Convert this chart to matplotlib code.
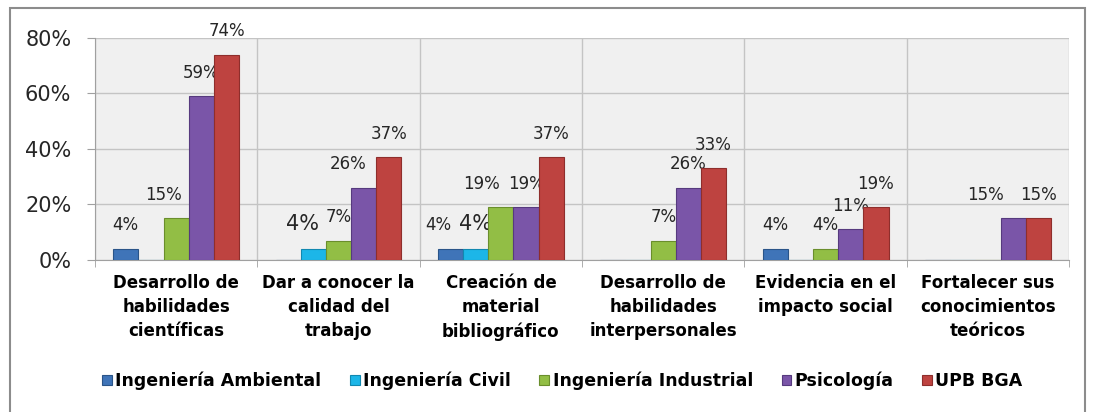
import matplotlib.pyplot as plt
import numpy as np
from matplotlib.patches import Rectangle

categories = [
    "Desarrollo de\nhabilidades\ncientíficas",
    "Dar a conocer la\ncalidad del\ntrabajo",
    "Creación de\nmaterial\nbibliográfico",
    "Desarrollo de\nhabilidades\ninterpersonales",
    "Evidencia en el\nimpacto social",
    "Fortalecer sus\nconocimientos\nteóricos",
]
series = ["Ingeniería Ambiental", "Ingeniería Civil", "Ingeniería Industrial",
          "Psicología", "UPB BGA"]
ambiental = [4, 0, 4, 0, 4, 0]
civil = [0, 4, 4, 0, 0, 0]
industrial = [15, 7, 19, 7, 4, 0]
psicologia = [59, 26, 19, 26, 11, 15]
upb = [74, 37, 37, 33, 19, 15]
yticks = [0, 20, 40, 60, 80]

colors = ["#3F74B8", "#1CB6E8", "#92BE45", "#7A55A8", "#BE4340"]
edges = ["#2A5488", "#1188B0", "#6A8E2C", "#563A7E", "#8E2E2C"]

# label nudges (points) where Excel moved labels sideways to avoid overlap
label_dx = {(0, 2): -9, (1, 1): -8, (1, 3): -11, (2, 0): -9, (2, 2): -14, (5, 3): -20}
big_labels = {(1, 1), (2, 1)}

fig = plt.figure(figsize=(10.94, 4.12), dpi=100)
fig.patches.append(Rectangle((0.009, -0.01), 0.983, 0.99, transform=fig.transFigure,
                             fill=False, edgecolor="#8C8C8C", linewidth=1.5))
ax = fig.add_axes([0.0868, 0.369, 0.8905, 0.539])
ax.set_facecolor("#F0F0F0")

x = np.arange(len(categories))
w = 0.155
data = [ambiental, civil, industrial, psicologia, upb]
for i, (vals, name) in enumerate(zip(data, series)):
    pos = x + (i - 2) * w
    ax.bar(pos, vals, width=w, color=colors[i], edgecolor=edges[i], linewidth=0.8,
           label=name, zorder=3)
    for j, (p, v) in enumerate(zip(pos, vals)):
        if v > 0:
            big = (j, i) in big_labels
            ax.annotate(f"{v}%", (p, v), xytext=(label_dx.get((j, i), 0), 18 if big else 17),
                        textcoords="offset points", ha="center", va="center",
                        fontsize=15 if big else 12, color="#262626")

ax.set_xlim(-0.5, len(categories) - 0.5)
ax.set_ylim(0, 80)
ax.set_yticks(yticks)
ax.set_yticklabels([f"{t}%" for t in yticks], fontsize=15, color="#262626")
ax.set_xticks(x)
ax.set_xticklabels(categories, fontsize=12, fontweight="bold",
                   linespacing=1.45, va="top")
ax.set_xticks(np.arange(-0.5, len(categories)), minor=True)
ax.tick_params(axis="x", which="major", length=0, pad=10)
ax.tick_params(axis="x", which="minor", length=5, color="#A0A0A0")
ax.tick_params(axis="y", length=6, color="#A0A0A0", pad=11)
ax.grid(axis="y", color="#C4C4C4", linewidth=1, zorder=0)
ax.grid(axis="x", which="minor", color="#C4C4C4", linewidth=1, zorder=0)
for s in ["top", "right"]:
    ax.spines[s].set_visible(False)
for s in ["left", "bottom"]:
    ax.spines[s].set_color("#A0A0A0")

fig.legend(loc="center", bbox_to_anchor=(0.514, 0.075), ncol=5, frameon=False,
           handlelength=0.55, handleheight=0.55, handletextpad=0.2, columnspacing=1.65,
           prop={"weight": "bold", "size": 12.5})

fig.savefig("out.png", dpi=100)
